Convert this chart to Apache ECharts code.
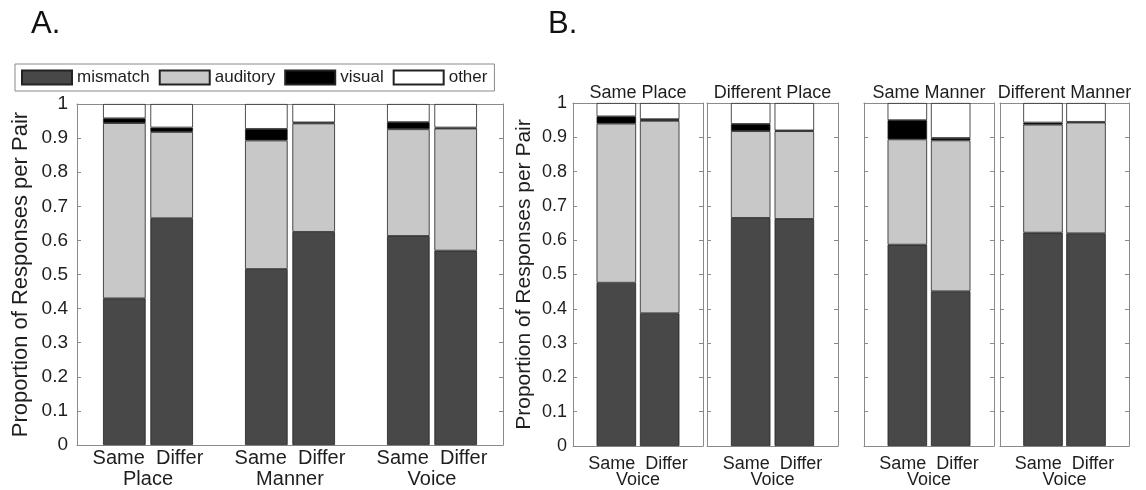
<!DOCTYPE html>
<html>
<head>
<meta charset="utf-8">
<script src="https://cdn.jsdelivr.net/npm/echarts@6/dist/echarts.min.js"></script>
<style>
  html, body { margin: 0; padding: 0; background: #ffffff; }
  #chart { width: 1146px; height: 490px; }
</style>
</head>
<body>
<div id="chart"></div>
<script>
// Response categories and their fill colours
const RESPONSE_TYPES = ['mismatch', 'auditory', 'visual', 'other'];
const FILLS = ['#484848', '#c8c8c8', '#000000', '#ffffff'];

// Panel A: pairs grouped by feature, Same vs Differ within each group
const GROUPS_A = ['Place', 'Manner', 'Voice'];
const LEVELS = ['Same', 'Differ'];
// order: Same Place, Differ Place, Same Manner, Differ Manner, Same Voice, Differ Voice
const mismatchA = [0.430, 0.665, 0.516, 0.625, 0.613, 0.570];
const auditoryA = [0.514, 0.253, 0.377, 0.318, 0.313, 0.358];
const visualA   = [0.014, 0.013, 0.034, 0.003, 0.021, 0.003];
const otherA    = [0.042, 0.069, 0.073, 0.054, 0.053, 0.069];

// Panel B: Same/Differ voice split by place and manner
const PANELS_B = ['Same Place', 'Different Place', 'Same Manner', 'Different Manner'];
const VOICE_LABEL = 'Voice';
// each entry: [Same Voice, Differ Voice]
const mismatchB = [[0.476, 0.387], [0.665, 0.662], [0.587, 0.451], [0.622, 0.620]];
const auditoryB = [[0.464, 0.561], [0.253, 0.256], [0.307, 0.440], [0.315, 0.323]];
const visualB   = [[0.021, 0.005], [0.021, 0.002], [0.056, 0.007], [0.006, 0.002]];
const otherB    = [[0.039, 0.047], [0.061, 0.080], [0.050, 0.102], [0.057, 0.055]];

const Y_TITLE = 'Proportion of Responses per Pair';

const FONT = '"Liberation Sans", Arial, Helvetica, sans-serif';
const TEXT = '#1e1e1e';
const AXIS = '#8a8a8a';
const EDGE = '#222222';

const valuesA = [mismatchA, auditoryA, visualA, otherA];
const valuesB = [mismatchB, auditoryB, visualB, otherB];
const PAIR_TEXT = LEVELS.join('  ');

const chart = echarts.init(document.getElementById('chart'), null, { renderer: 'canvas' });

const grids = [];
const xAxes = [];
const yAxes = [];
const series = [];

function tickFmt(v) {
  const r = Math.round(v * 10) / 10;
  if (r === 0) return '0';
  if (r === 1) return '1';
  return r.toFixed(1);
}

// Slots along x: an empty slot at each edge and between pairs, one slot per bar.
function slotLayout(nGroups) {
  const slots = [''];
  const barSlot = [];
  for (let g = 0; g < nGroups; g++) {
    LEVELS.forEach(l => { barSlot.push(slots.length); slots.push(l); });
    slots.push('');
  }
  return { slots, barSlot };
}

function addFrame(gridIndex, opts) {
  const nSlots = opts.slots.length;
  // bar positions (category slots, no labels)
  const xBars = xAxes.length;
  xAxes.push({
    type: 'category', gridIndex, position: 'bottom', boundaryGap: false,
    data: opts.slots,
    axisLine: { show: true, onZero: false, lineStyle: { color: AXIS, width: 1 } },
    axisTick: { show: false }, axisLabel: { show: false }, splitLine: { show: false }
  });
  // pair labels centred under each pair
  xAxes.push({
    type: 'value', gridIndex, position: 'bottom',
    min: 0, max: nSlots - 1, interval: 1.5,
    axisLine: { show: false }, axisTick: { show: false }, splitLine: { show: false },
    axisLabel: {
      margin: opts.labelMargin, fontSize: opts.labelSize, lineHeight: opts.labelLineHeight,
      fontFamily: FONT, color: TEXT, showMinLabel: true, showMaxLabel: true,
      formatter: v => {
        const g = (v - 1.5) / 3;
        return Number.isInteger(g) && g >= 0 && g < opts.groupNames.length
          ? PAIR_TEXT + '\n' + opts.groupNames[g] : '';
      }
    }
  });
  // top edge of the box, optionally carrying the panel title
  xAxes.push({
    type: 'value', gridIndex, position: 'top',
    min: 0, max: nSlots - 1,
    axisLine: { show: true, onZero: false, lineStyle: { color: AXIS, width: 1 } },
    axisTick: { show: false }, axisLabel: { show: false }, splitLine: { show: false },
    name: opts.title || '', nameLocation: 'middle', nameGap: 1,
    nameTextStyle: { fontSize: 18, fontFamily: FONT, color: TEXT }
  });
  const yLeft = yAxes.length;
  yAxes.push({
    type: 'value', gridIndex, position: 'left',
    min: 0, max: 1, interval: 0.1,
    axisLine: { show: true, onZero: false, lineStyle: { color: AXIS, width: 1 } },
    axisTick: { show: true, inside: true, length: 4, lineStyle: { color: AXIS } },
    splitLine: { show: false },
    axisLabel: {
      show: opts.yLabels, margin: opts.yLabelMargin, fontSize: opts.yLabelSize,
      fontFamily: FONT, color: TEXT, formatter: tickFmt
    },
    name: opts.yLabels ? Y_TITLE : '', nameLocation: 'middle', nameRotate: 90,
    nameGap: opts.yNameGap,
    nameTextStyle: { fontSize: opts.yNameSize, fontFamily: FONT, color: TEXT }
  });
  yAxes.push({
    type: 'value', gridIndex, position: 'right',
    min: 0, max: 1, interval: 0.1,
    axisLine: { show: true, onZero: false, lineStyle: { color: AXIS, width: 1 } },
    axisTick: { show: true, inside: true, length: 4, lineStyle: { color: AXIS } },
    axisLabel: { show: false }, splitLine: { show: false }
  });
  return { xBars, yLeft };
}

function slotData(values, layout) {
  const out = layout.slots.map(() => '-');
  values.forEach((v, i) => { out[layout.barSlot[i]] = v; });
  return out;
}

// ---------- Panel A ----------
const layoutA = slotLayout(GROUPS_A.length);
grids.push({ left: 77, top: 104, width: 426, height: 343 });
const frameA = addFrame(0, {
  slots: layoutA.slots, groupNames: GROUPS_A,
  labelMargin: 3, labelSize: 20, labelLineHeight: 21,
  yLabels: true, yLabelMargin: 9, yLabelSize: 19, yNameGap: 45, yNameSize: 22
});
RESPONSE_TYPES.forEach((name, k) => {
  series.push({
    type: 'bar', name, stack: 'A',
    xAxisIndex: frameA.xBars, yAxisIndex: frameA.yLeft,
    barWidth: 42.6,
    itemStyle: { color: FILLS[k], borderColor: EDGE, borderWidth: 0.8 },
    emphasis: { disabled: true },
    data: slotData(valuesA[k], layoutA)
  });
});

// ---------- Panel B ----------
const layoutB = slotLayout(1);
const gridB = [
  { left: 573, width: 130 },
  { left: 707, width: 131 },
  { left: 864, width: 130 },
  { left: 1000, width: 129 }
];
PANELS_B.forEach((title, p) => {
  const gi = grids.length;
  grids.push({ left: gridB[p].left, top: 103, width: gridB[p].width, height: 343 });
  const fr = addFrame(gi, {
    slots: layoutB.slots, groupNames: [VOICE_LABEL], title,
    labelMargin: 10, labelSize: 18, labelLineHeight: 16,
    yLabels: p === 0, yLabelMargin: 6, yLabelSize: 18, yNameGap: 38, yNameSize: 21
  });
  RESPONSE_TYPES.forEach((name, k) => {
    series.push({
      type: 'bar', name, stack: 'B' + p,
      xAxisIndex: fr.xBars, yAxisIndex: fr.yLeft,
      barWidth: 39.5,
      itemStyle: { color: FILLS[k], borderColor: EDGE, borderWidth: 0.8 },
      emphasis: { disabled: true },
      data: slotData(valuesB[k][p], layoutB)
    });
  });
});

chart.setOption({
  animation: false,
  backgroundColor: '#ffffff',
  textStyle: { fontFamily: FONT },
  title: [
    { text: 'A.', left: 31, top: 9, padding: 0,
      textStyle: { fontSize: 31, fontWeight: 'normal', fontFamily: FONT, color: '#111' } },
    { text: 'B.', left: 548, top: 9, padding: 0,
      textStyle: { fontSize: 31, fontWeight: 'normal', fontFamily: FONT, color: '#111' } }
  ],
  legend: {
    data: RESPONSE_TYPES,
    left: 15, top: 64,
    orient: 'horizontal',
    icon: 'rect',
    itemWidth: 50, itemHeight: 14, itemGap: 9,
    padding: [5, 7, 5, 6],
    borderColor: AXIS, borderWidth: 1,
    selectedMode: false,
    textStyle: { fontSize: 17, fontFamily: FONT, color: TEXT }
  },
  grid: grids,
  xAxis: xAxes,
  yAxis: yAxes,
  series
});
</script>
</body>
</html>
